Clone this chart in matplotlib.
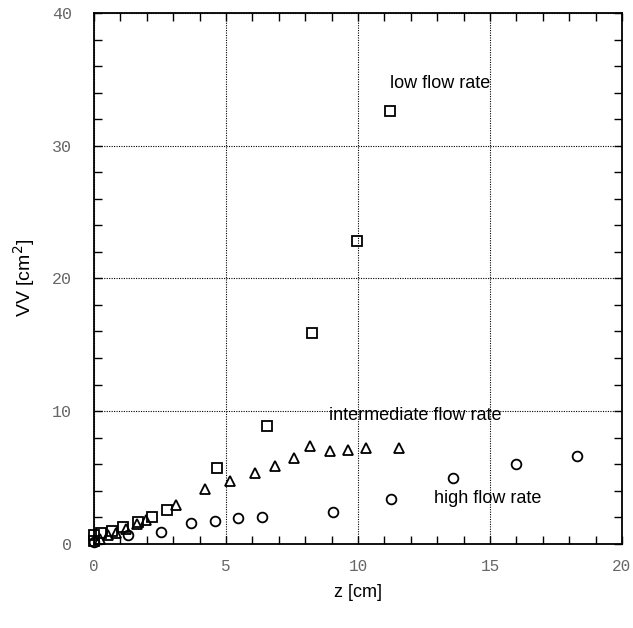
import matplotlib
matplotlib.use("Agg")
import matplotlib.pyplot as plt
from matplotlib.ticker import MultipleLocator

# low flow rate (squares)
low_z = [0.0, 0.0, 0.25, 0.67, 1.1, 1.65, 2.2, 2.77, 4.67, 6.57, 8.24, 9.95, 11.2]
low_v = [0.2, 0.65, 0.78, 0.98, 1.28, 1.66, 2.03, 2.54, 5.7, 8.87, 15.9, 22.8, 32.6]

# intermediate flow rate (triangles)
mid_z = [0.23, 0.54, 0.85, 1.23, 1.61, 1.96, 3.12, 4.21, 5.17, 6.11, 6.87, 7.56,
         8.19, 8.94, 9.64, 10.29, 11.55]
mid_v = [0.35, 0.66, 0.83, 1.1, 1.48, 1.78, 2.92, 4.12, 4.72, 5.3, 5.88, 6.43,
         7.38, 7.0, 7.1, 7.19, 7.19]

# high flow rate (circles)
high_z = [0.0, 1.3, 2.55, 3.69, 4.57, 5.47, 6.35, 9.06, 11.25, 13.58, 15.97, 18.3]
high_v = [0.15, 0.63, 0.9, 1.54, 1.73, 1.96, 2.03, 2.41, 3.34, 4.93, 6.0, 6.61]

labels = ["low flow rate", "intermediate flow rate", "high flow rate"]

fig = plt.figure(figsize=(6.33, 6.28), dpi=100)
ax = fig.add_axes([0.1485, 0.1342, 0.8341, 0.8451])

mk = dict(linestyle="none", markerfacecolor="none", markeredgecolor="black",
          markeredgewidth=1.3, clip_on=False)
ax.plot(low_z, low_v, marker="s", markersize=7, **mk)
ax.plot(mid_z, mid_v, marker="^", markersize=7.5, **mk)
ax.plot(high_z, high_v, marker="o", markersize=7, **mk)

ax.set_xlim(0, 20)
ax.set_ylim(0, 40)
ax.xaxis.set_major_locator(MultipleLocator(5))
ax.xaxis.set_minor_locator(MultipleLocator(1))
ax.yaxis.set_major_locator(MultipleLocator(10))
ax.yaxis.set_minor_locator(MultipleLocator(2))
ax.tick_params(which="both", direction="in", top=True, right=True,
               length=6, width=1.0, labelsize=12, labelcolor="#666666")
ax.tick_params(axis="x", pad=11, labelsize=11.5)
ax.tick_params(axis="y", pad=16)
for lab in ax.get_xticklabels() + ax.get_yticklabels():
    lab.set_family("Liberation Mono")

ax.grid(True, which="major", linestyle=(0, (1, 1.2)), color="black", linewidth=0.8)
for s in ax.spines.values():
    s.set_linewidth(1.3)

tf = dict(fontsize=13, family="Liberation Sans", color="black", va="center", ha="left")
ax.text(11.2, 34.7, labels[0], **tf)
ax.text(8.9, 9.65, labels[1], **tf)
ax.text(12.87, 3.44, labels[2], **tf)

ax.set_xlabel("z [cm]", fontsize=13, family="Liberation Sans", labelpad=7)
ax.set_ylabel("VV [cm$^2$]", fontsize=14, family="Liberation Sans", labelpad=11)

fig.savefig("out.png", dpi=100)
